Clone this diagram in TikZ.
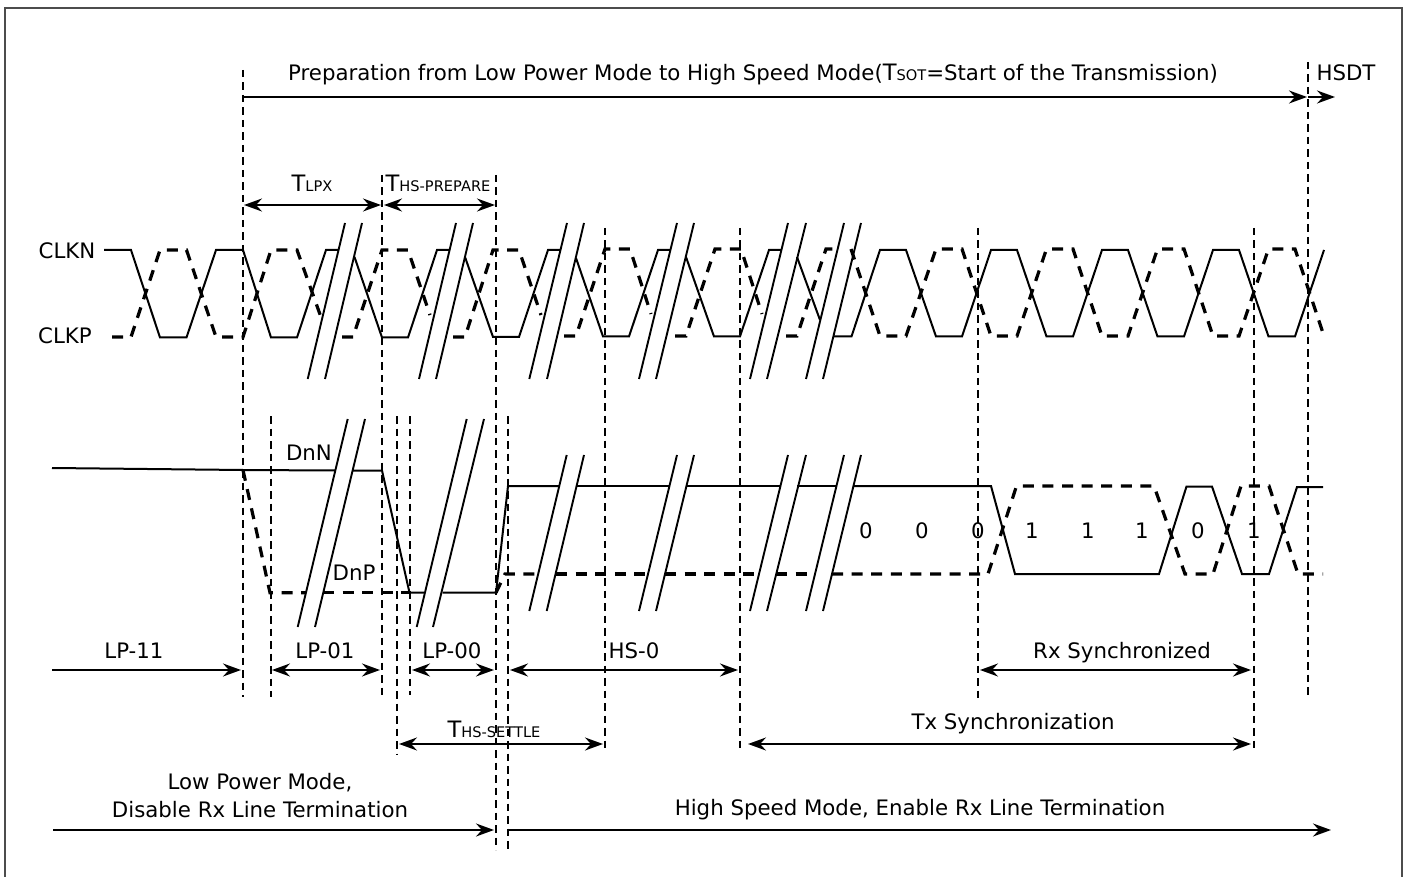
\documentclass[tikz,border=0pt]{standalone}
\usepackage{fontspec}
\setmainfont{DejaVu Sans}
\usetikzlibrary{arrows.meta}
\newcommand{\subsc}[1]{{\fontsize{14.6}{17}\selectfont #1}}
\newcommand{\bigT}{{\fontsize{22.6}{25}\selectfont T}}
\tikzset{
  x=1pt,y=-1pt,
  frameline/.style={draw=black!70,line width=1.7pt},
  guide/.style={draw=black,line width=2pt,dash pattern=on 7.5pt off 5pt},
  solidw/.style={draw=black,line width=2pt,line join=miter},
  dashw/.style={draw=black,line width=3.2pt,dash pattern=on 11pt off 8.6pt},
  slash/.style={draw=black,line width=1.9pt},
  tipa/.tip={Stealth[length=18pt,width=13pt,inset=6pt]},
  span/.style={draw=black,line width=2pt,tipa-tipa,shorten <=1pt,shorten >=1pt},
  rarrow/.style={draw=black,line width=2pt,-tipa},
  lbl/.style={anchor=base,inner sep=0pt,font=\fontsize{21.3}{25}\selectfont},
}
\begin{document}
\begin{tikzpicture}
\useasboundingbox (0,0) rectangle (1409,877);
\draw[frameline] (5,880) -- (5,8) -- (1402,8) -- (1402,880);

% vertical guides
\foreach \n/\gx/\ya/\yb in {ga/243/70/697,gb/382/175/695,gc/496/175/850,gd/605/228/748,ge/740/228/750,gf/978/228/700,gg/1254/228/750,gh/1308/62/697,gi/270.5/416/697,gj/397/416/754,gk/409.5/416/695,gl/508/416/850}{
  \coordinate (\n t) at (\gx,\ya);
  \coordinate (\n b) at (\gx,\yb);
  \draw[guide] (\n t) -- (\n b);
}

% clock, solid
\draw[solidw] (104,250)--(131,250)--(160,337.5)--(186.5,337.5)--(216,250)--(243,250)--(271,337.5)--(297,337.5)--(326,250)--(338,250);
\draw[solidw] (354.5,257)--(382,337.5)--(408,337.5)--(437,250)--(449,250);
\draw[solidw] (465,257)--(493,337)--(519,337)--(548,250)--(560.5,250);
\draw[solidw] (576,258)--(603,336.5)--(629,336.5)--(658,250)--(670,250);
\draw[solidw] (686,257)--(714,336.5)--(740,336.5)--(769,250)--(781,250);
\draw[solidw] (797,257)--(820,320);
\draw[solidw] (834,336.5)--(851.5,336.5)--(880,250)--(906,250)--(936,336.5)--(962,336.5)--(991,250)--(1017,250)--(1046.5,336.5)--(1073,336.5)--(1102,250)--(1128,250)--(1157.5,336.5)--(1184,336.5)--(1213,250)--(1239,250)--(1268.5,336.5)--(1295,336.5)--(1324,250);

% clock, dashed
\draw[dashw] (112,337)--(131,337)--(160,250)--(186.5,250)--(216,337)--(243,337)--(271,250)--(297,250)--(322,320);
\draw[dashw] (342,337)--(353,337)--(382,250)--(408,250)--(430,315);
\draw[dashw] (453,337)--(465,337)--(493,250)--(519,250)--(541,315);
\draw[dashw] (564,336)--(576,336)--(605,249)--(630,249)--(651,314);
\draw[dashw] (675,336)--(686,336)--(715,249)--(741,249)--(762,314);
\draw[dashw] (786,336)--(797,336)--(826,249)--(835,249);
\draw[dashw] (851,249)--(880,336)--(906,336)--(936,249)--(962,249)--(991,336)--(1017,336)--(1046.5,249)--(1073,249)--(1102,336)--(1128,336)--(1157.5,249)--(1184,249)--(1213,336)--(1239,336)--(1268.5,249)--(1295,249)--(1324,336);

% break marks, clock
\foreach \a/\b in {307.7/345,325/362,419/456,436/473,529.3/567,547/584,639/677,656/694,750/788,767/806,806/844,823/861}{
  \draw[slash] (\a,379) -- (\b,223);
}
% break marks, data
\foreach \a/\b in {297.7/347.7,315/365,416.7/466.7,433/484}{
  \draw[slash] (\a,627) -- (\b,419);
}
\foreach \a/\b in {529.3/566.7,546.7/584,639/677,656/694,750/788,767/806,806/844,823/861}{
  \draw[slash] (\a,611) -- (\b,455);
}

% data, solid
\draw[solidw] (52,468)--(243,470)--(335,470.5);
\draw[solidw] (353,470.5)--(382,470.5)--(409.5,592.7)--(424,592.7);
\draw[solidw] (442.7,592.7)--(496,592.7)--(508,486)--(559,486);
\draw[solidw] (577,486)--(669,486);
\draw[solidw] (686,486)--(780,486);
\draw[solidw] (797,486)--(836,486);
\draw[solidw] (853,486)--(991,486)--(1015,574)--(1159,574)--(1186.5,486.5)--(1212,486.5)--(1242,574)--(1269,574)--(1297,487)--(1323,487);

% data, dashed
\draw[dashw] (243,470)--(270,592.7)--(306,592.7);
\draw[dashw] (323,592.7)--(409.5,592.7);
\draw[dashw] (496,592.7)--(505,574)--(538,574);
\draw[dashw] (556,574)--(648,574);
\draw[dashw] (665,574)--(759,574);
\draw[dashw] (776,574)--(815,574);
\draw[dashw] (832,574)--(988,574)--(1016.5,486)--(1154,486)--(1185,574)--(1213,574)--(1241,486)--(1269,486)--(1298,574)--(1323,574);

% horizontal dimensions
\coordinate (pa) at (243,97);  \coordinate (pb) at (1307,97);
\coordinate (pc) at (1308,97); \coordinate (pd) at (1335,97);
\draw[rarrow] (pa) -- (pb);
\draw[rarrow] (pc) -- (pd);
\coordinate (tla) at (243,205); \coordinate (tlb) at (382,205);
\coordinate (tha) at (383,205); \coordinate (thb) at (496,205);
\draw[span] (tla) -- (tlb);
\draw[span] (tha) -- (thb);
\coordinate (l1a) at (52,670);  \coordinate (l1b) at (241,670);
\coordinate (l2a) at (271,670); \coordinate (l2b) at (381,670);
\coordinate (l3a) at (411,670); \coordinate (l3b) at (495,670);
\coordinate (l4a) at (509,670); \coordinate (l4b) at (739,670);
\coordinate (l5a) at (979,670); \coordinate (l5b) at (1252,670);
\draw[rarrow] (l1a) -- (l1b);
\draw[span] (l2a) -- (l2b);
\draw[span] (l3a) -- (l3b);
\draw[span] (l4a) -- (l4b);
\draw[span] (l5a) -- (l5b);
\coordinate (sa) at (398,744); \coordinate (sb) at (604,744);
\coordinate (ta) at (747,744); \coordinate (tb) at (1252,744);
\draw[span] (sa) -- (sb);
\draw[span] (ta) -- (tb);
\coordinate (ma) at (53,830);  \coordinate (mb) at (494,830);
\coordinate (mc) at (508,830); \coordinate (md) at (1331,830);
\draw[rarrow] (ma) -- (mb);
\draw[rarrow] (mc) -- (md);

% labels
\node[lbl] (tprep) at (753,81) {Preparation from Low Power Mode to High Speed Mode(\bigT\subsc{SOT}=Start of the Transmission)};
\node[lbl] (thsdt) at (1346,81) {HSDT};
\node[lbl] (ttlpx) at (312,192) {\bigT\subsc{LPX}};
\node[lbl] (tthsp) at (438,192) {\bigT\subsc{HS-PREPARE}};
\node[lbl] (tclkn) at (67,259) {CLKN};
\node[lbl] (tclkp) at (65,344) {CLKP};
\node[lbl] (tdnn) at (309,460) {DnN};
\node[lbl] (tdnp) at (354,580) {DnP};
\node[lbl] (tlp11) at (134,658) {LP-11};
\node[lbl] (tlp01) at (325,658) {LP-01};
\node[lbl] (tlp00) at (452,658) {LP-00};
\node[lbl] (ths0) at (634,658) {HS-0};
\node[lbl] (trx) at (1122,658) {Rx Synchronized};
\node[lbl] (ttx) at (1013,729) {Tx Synchronization};
\node[lbl] (tset) at (494,737) {\bigT\subsc{HS-SETTLE}};
\node[lbl] (tlow1) at (260,789) {Low Power Mode,};
\node[lbl] (tlow2) at (260,817) {Disable Rx Line Termination};
\node[lbl] (thigh) at (920,815) {High Speed Mode, Enable Rx Line Termination};
\foreach \n/\dx/\dg in {a/866/0,b/922/0,c/978/0,d/1032/1,e/1088/1,f/1142/1,g/1198/0,h/1254/1}{
  \node[lbl] (dig\n) at (\dx,538) {\dg};
}
\end{tikzpicture}
\end{document}
